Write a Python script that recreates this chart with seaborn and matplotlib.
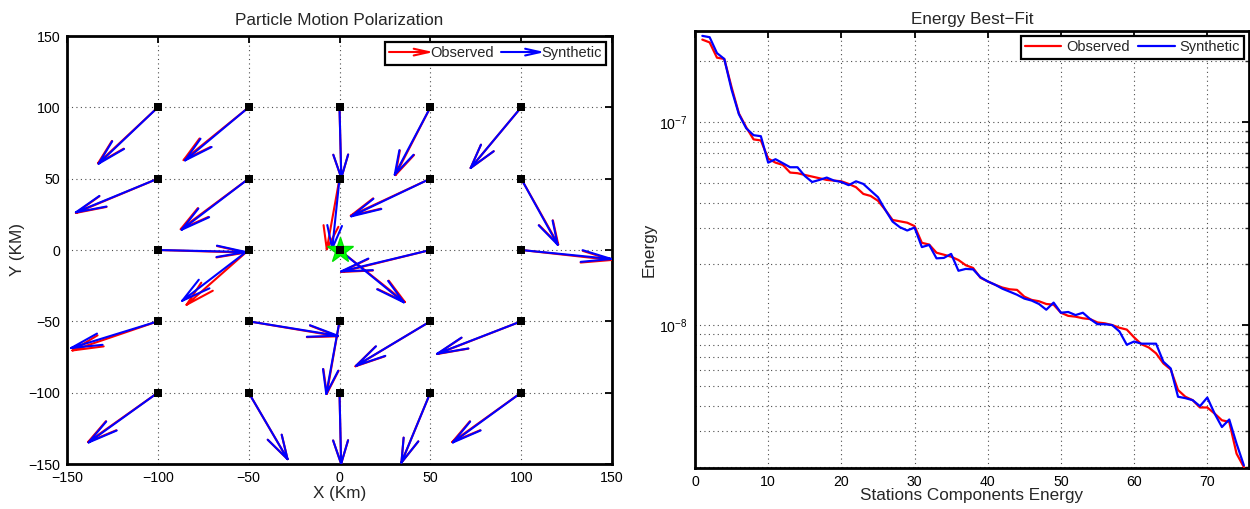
import numpy as np
import pandas as pd
import matplotlib
matplotlib.use("Agg")
import matplotlib.pyplot as plt
import seaborn as sns
from matplotlib.legend_handler import HandlerBase
from matplotlib.lines import Line2D
from matplotlib.ticker import FixedLocator, NullFormatter, MultipleLocator, LogFormatterSciNotation

sns.set_theme(style="white")
plt.rcParams['font.family'] = ['Liberation Sans', 'DejaVu Sans']
plt.rcParams['axes.unicode_minus'] = True
plt.rcParams['mathtext.default'] = 'regular'

# ---- station grid and particle-motion vectors (km) ----
station_x = [-100, -50, 0, 50, 100,
             -100, -50, 0, 50, 100,
             -100, -50, 0, 50, 100,
             -100, -50, 0, 50, 100,
             -100, -50, 0, 50, 100]
station_y = [100, 100, 100, 100, 100,
             50, 50, 50, 50, 50,
             0, 0, 0, 0, 0,
             -50, -50, -50, -50, -50,
             -100, -100, -100, -100, -100]

syn_u = [-32.6, -35.0, 1.0, -19.6, -27.8,
         -45.1, -36.9, -4.0, -43.5, 20.1,
         48.4, -36.6, 35.4, -49.1, 49.7,
         -47.7, 49.1, -7.3, -40.8, -46.2,
         -38.1, 21.4, 0.9, -15.9, -37.6]
syn_v = [-39.5, -37.2, -49.5, -47.2, -42.5,
         -23.6, -35.8, -49.0, -26.4, -46.3,
         -1.4, -35.6, -36.7, -15.0, -6.3,
         -18.7, -10.1, -50.8, -31.1, -22.7,
         -34.9, -46.6, -49.9, -49.0, -34.9]

obs_u = [-32.9, -35.8, 1.0, -19.2, -27.8,
         -45.1, -37.4, -7.0, -43.8, 20.4,
         48.4, -34.2, 36.0, -49.1, 49.7,
         -47.0, 49.1, -7.0, -41.2, -46.2,
         -38.4, 21.4, 0.9, -15.9, -37.9]
obs_v = [-39.2, -37.0, -49.5, -47.5, -42.5,
         -24.0, -35.4, -49.5, -26.0, -46.1,
         -1.8, -38.4, -36.5, -15.4, -7.0,
         -20.4, -10.5, -50.8, -31.5, -22.9,
         -34.6, -46.6, -49.9, -49.0, -34.6]

epicenter_x = [0]
epicenter_y = [0]

# ---- energy per station component ----
component = np.arange(1, 76)
energy_obs = [2.54e-7, 2.46e-7, 2.07e-7, 2.04e-7, 1.48e-7, 1.10e-7, 9.4e-8, 8.2e-8, 8.1e-8, 6.6e-8,
              6.3e-8, 6.14e-8, 5.63e-8, 5.59e-8, 5.48e-8, 5.38e-8, 5.28e-8, 5.18e-8, 5.14e-8, 5.10e-8,
              4.95e-8, 4.77e-8, 4.42e-8, 4.32e-8, 4.09e-8, 3.69e-8, 3.29e-8, 3.24e-8, 3.19e-8, 3.07e-8,
              2.54e-8, 2.49e-8, 2.27e-8, 2.22e-8, 2.17e-8, 2.09e-8, 1.97e-8, 1.91e-8, 1.71e-8, 1.64e-8,
              1.58e-8, 1.53e-8, 1.50e-8, 1.49e-8, 1.38e-8, 1.33e-8, 1.31e-8, 1.27e-8, 1.26e-8, 1.15e-8,
              1.11e-8, 1.10e-8, 1.08e-8, 1.07e-8, 1.03e-8, 1.02e-8, 1.00e-8, 9.7e-9, 9.5e-9, 8.7e-9,
              8.05e-9, 7.76e-9, 7.26e-9, 6.48e-9, 6.05e-9, 4.79e-9, 4.44e-9, 4.27e-9, 3.93e-9, 3.93e-9,
              3.67e-9, 3.40e-9, 3.34e-9, 2.33e-9, 2.00e-9]
energy_syn = [2.65e-7, 2.61e-7, 2.18e-7, 2.04e-7, 1.44e-7, 1.09e-7, 9.3e-8, 8.6e-8, 8.5e-8, 6.3e-8,
              6.55e-8, 6.26e-8, 5.98e-8, 5.98e-8, 5.42e-8, 5.06e-8, 5.18e-8, 5.32e-8, 5.14e-8, 5.06e-8,
              4.88e-8, 5.10e-8, 4.95e-8, 4.59e-8, 4.26e-8, 3.69e-8, 3.23e-8, 3.03e-8, 2.92e-8, 3.02e-8,
              2.42e-8, 2.48e-8, 2.13e-8, 2.14e-8, 2.24e-8, 1.85e-8, 1.89e-8, 1.88e-8, 1.72e-8, 1.64e-8,
              1.58e-8, 1.51e-8, 1.46e-8, 1.41e-8, 1.35e-8, 1.32e-8, 1.27e-8, 1.19e-8, 1.29e-8, 1.15e-8,
              1.16e-8, 1.12e-8, 1.15e-8, 1.07e-8, 1.01e-8, 1.01e-8, 1.00e-8, 9.3e-9, 8.0e-9, 8.3e-9,
              8.1e-9, 8.1e-9, 8.1e-9, 6.6e-9, 6.12e-9, 4.44e-9, 4.37e-9, 4.27e-9, 3.99e-9, 4.4e-9,
              3.67e-9, 3.15e-9, 3.43e-9, 2.61e-9, 2.04e-9]

energy_major_ticks = [1e-8, 1e-7]
energy_minor_ticks = [m * d for d in (1e-9, 1e-8, 1e-7) for m in range(2, 10)]

RED = '#ff0000'
BLUE = '#0000ff'
GRID_KW = dict(color='0.3', linestyle=(0, (1, 3)), linewidth=0.8)


def quiver_segments(x, y, u, v, alpha=0.33, beta=0.25):
    """Shafts and open two-barb heads, in data units, NaN separated."""
    x, y, u, v = map(np.asarray, (x, y, u, v))
    nan = np.full_like(x, np.nan, dtype=float)
    sx = np.column_stack([x, x + u, nan]).ravel()
    sy = np.column_stack([y, y + v, nan]).ravel()
    hx = np.column_stack([x + u - alpha * (u + beta * v), x + u,
                          x + u - alpha * (u - beta * v), nan]).ravel()
    hy = np.column_stack([y + v - alpha * (v - beta * u), y + v,
                          y + v - alpha * (v + beta * u), nan]).ravel()
    return np.concatenate([sx, hx]), np.concatenate([sy, hy])


class ArrowHandler(HandlerBase):
    def create_artists(self, legend, orig_handle, xdescent, ydescent,
                       width, height, fontsize, trans):
        c = orig_handle.get_color()
        lw = orig_handle.get_linewidth()
        yc = height / 2 - ydescent
        x0, x1 = -xdescent, width - xdescent
        hl, hw = 0.38 * width, 0.33 * height
        shaft = Line2D([x0, x1], [yc, yc], color=c, lw=lw, transform=trans)
        head = Line2D([x1 - hl, x1, x1 - hl], [yc + hw, yc, yc - hw],
                      color=c, lw=lw, transform=trans)
        return [shaft, head]


def style_axes(ax):
    for s in ax.spines.values():
        s.set_linewidth(2.0)
        s.set_color('black')
        s.set_visible(True)
    ax.tick_params(which='major', direction='in', top=True, right=True,
                   length=5, width=1.3, labelsize=10.2, colors='black', pad=5)
    ax.tick_params(which='minor', direction='in', top=True, right=True,
                   length=3, width=1.0)


fig = plt.figure(figsize=(12.5, 5.09), dpi=100)
ax1 = fig.add_axes([67 / 1250, 1 - 464 / 509, 545 / 1250, 428 / 509])
ax2 = fig.add_axes([695 / 1250, 1 - 468 / 509, 554 / 1250, 437 / 509])

# ---- left: particle motion polarization ----
ax1.set_xlim(-150, 150)
ax1.set_ylim(-150, 150)
ax1.xaxis.set_major_locator(MultipleLocator(50))
ax1.yaxis.set_major_locator(MultipleLocator(50))
ax1.grid(True, **GRID_KW)
ax1.set_axisbelow(True)

ox, oy = quiver_segments(station_x, station_y, obs_u, obs_v)
sx, sy = quiver_segments(station_x, station_y, syn_u, syn_v)
ax1.plot(ox, oy, color=RED, lw=1.5, zorder=3)
ax1.plot(sx, sy, color=BLUE, lw=1.5, zorder=4)
ax1.plot(epicenter_x, epicenter_y, linestyle='none', marker='*', markersize=19,
         color='#00ff00', markeredgecolor='#00e000', zorder=5)
sns.scatterplot(x=station_x, y=station_y, ax=ax1, marker='s', s=28,
                color='black', edgecolor='black', linewidth=0, zorder=6)

h_obs = Line2D([], [], color=RED, lw=1.5)
h_syn = Line2D([], [], color=BLUE, lw=1.5)
leg1 = ax1.legend([h_obs, h_syn], ['Observed', 'Synthetic'], loc='upper right',
                  ncol=2, fontsize=10.5, handlelength=2.7, handletextpad=0.08,
                  columnspacing=0.5, borderpad=0.3, borderaxespad=0.4,
                  fancybox=False, framealpha=1, edgecolor='black',
                  handler_map={Line2D: ArrowHandler()})
leg1.get_frame().set_linewidth(1.6)
leg1.set_zorder(10)

ax1.set_title('Particle Motion Polarization', fontsize=12.3, pad=8)
ax1.set_xlabel('X (Km)', fontsize=12.3, labelpad=1)
ax1.set_ylabel('Y (KM)', fontsize=12.3, labelpad=2)
style_axes(ax1)

# ---- right: energy best fit ----
energy_df = pd.DataFrame({
    'component': np.concatenate([component, component]),
    'energy': np.concatenate([energy_obs, energy_syn]),
    'series': ['Observed'] * len(component) + ['Synthetic'] * len(component),
})
sns.lineplot(data=energy_df, x='component', y='energy', hue='series',
             palette={'Observed': RED, 'Synthetic': BLUE}, lw=1.6, ax=ax2,
             legend=False, zorder=3)
ax2.set_yscale('log')
ax2.set_xlim(0, 75.7)
ax2.set_ylim(1.98e-9, 2.8e-7)
ax2.xaxis.set_major_locator(MultipleLocator(10))
ax2.yaxis.set_major_locator(FixedLocator(energy_major_ticks))
ax2.yaxis.set_major_formatter(LogFormatterSciNotation())
ax2.yaxis.set_minor_locator(FixedLocator(energy_minor_ticks))
ax2.yaxis.set_minor_formatter(NullFormatter())
ax2.grid(True, which='major', **GRID_KW)
ax2.grid(True, which='minor', axis='y', **GRID_KW)
ax2.set_axisbelow(True)

leg2 = ax2.legend([Line2D([], [], color=RED, lw=1.6), Line2D([], [], color=BLUE, lw=1.6)],
                  ['Observed', 'Synthetic'], loc='upper right', ncol=2,
                  fontsize=10.5, handlelength=2.5, handletextpad=0.3,
                  columnspacing=0.6, borderpad=0.3, borderaxespad=0.35,
                  fancybox=False, framealpha=1, edgecolor='black')
leg2.get_frame().set_linewidth(1.6)

ax2.set_title('Energy Best\u2212Fit', fontsize=12.3, pad=5)
ax2.set_xlabel('Stations Components Energy', fontsize=12.3, labelpad=-1)
ax2.set_ylabel('Energy', fontsize=12.3, labelpad=2)
style_axes(ax2)

fig.savefig('out.png', dpi=100)
